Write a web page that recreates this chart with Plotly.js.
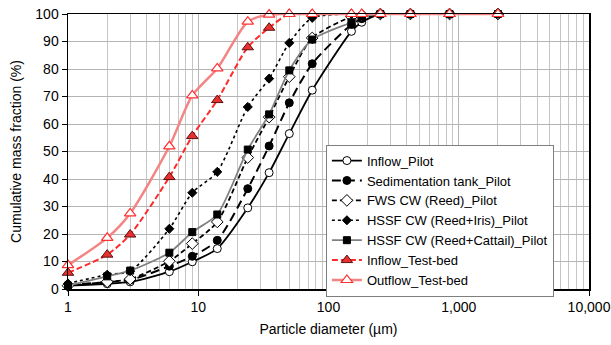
<!DOCTYPE html>
<html>
<head>
<meta charset="utf-8">
<script src="https://cdn.plot.ly/plotly-3.0.1.min.js"></script>
<style>html,body{margin:0;padding:0;background:#fff;}#chart{width:611px;height:345px;}</style>
</head>
<body>
<div id="chart"></div>
<script>
// Particle diameters (µm)
const diameters = [1, 2, 3, 6, 9, 14, 24, 35, 50, 75, 150, 180, 250, 425, 850, 2000];

// Cumulative mass fraction (%)
const inflowPilot     = [1.3, 1.9, 2.6, 6.3, 9.9, 14.7, 29.5, 42.3, 56.5, 72.3, 93.7, 97.0, 100, 100, 100, 100];
const sedTankPilot    = [1.5, 2.5, 3.3, 8.3, 11.9, 17.7, 36.5, 52.0, 67.7, 81.9, 96.2, 98.3, 100, 100, 100, 100];
const fwsReedPilot    = [1.2, 2.6, 3.6, 10.1, 16.5, 24.4, 47.8, 62.5, 77.2, 91.3, 99.0, 99.5, 100, 100, 100, 100];
const hssfIrisPilot   = [2.0, 5.2, 6.5, 21.9, 35.0, 42.6, 66.2, 76.5, 89.5, 98.6, 100, 100, 100, 100, 100, 100];
const hssfCattailPilot= [1.2, 4.6, 6.7, 13.2, 20.7, 27.1, 50.7, 63.5, 79.5, 90.7, 97.0, 99.0, 100, 100, 100, 100];
const inflowTestbed   = [5.9, 12.5, 19.8, 40.7, 55.6, 68.7, 87.9, 95.0, 100, 100, 100, 100, 100, 100, 100, 100];
const outflowTestbed  = [8.7, 18.6, 27.5, 51.9, 70.4, 80.2, 97.2, 99.8, 100, 100, 100, 100, 100, 100, 100, 100];

const seriesNames = [
  "Inflow_Pilot",
  "Sedimentation tank_Pilot",
  "FWS CW (Reed)_Pilot",
  "HSSF CW (Reed+Iris)_Pilot",
  "HSSF CW (Reed+Cattail)_Pilot",
  "Inflow_Test-bed",
  "Outflow_Test-bed"
];

const xTickVals = [1, 10, 100, 1000, 10000];
const xTickText = ["1", "10", "100", "1,000", "10,000"];
const xMinorVals = [];
[1, 10, 100, 1000].forEach(d => { for (let k = 2; k <= 9; k++) xMinorVals.push(d * k); });

const SM = 0.7;
function tr(name, y, line, marker) {
  return {
    type: "scatter", mode: "lines+markers", name: name,
    x: diameters, y: y,
    line: Object.assign({shape: "spline", smoothing: SM}, line),
    marker: marker,
    cliponaxis: false
  };
}

const data = [
  tr(seriesNames[0], inflowPilot, {color: "#000", width: 1.8},
     {symbol: "circle", size: 8, color: "#fff", line: {color: "#000", width: 1}}),
  tr(seriesNames[1], sedTankPilot, {color: "#000", width: 2, dash: "9px,5px"},
     {symbol: "circle", size: 8, color: "#000", line: {color: "#000", width: 1}}),
  tr(seriesNames[2], fwsReedPilot, {color: "#000", width: 1.8, dash: "5px,3px"},
     {symbol: "diamond", size: 9, color: "#fff", line: {color: "#000", width: 1}}),
  tr(seriesNames[3], hssfIrisPilot, {color: "#000", width: 1.6, dash: "dot"},
     {symbol: "diamond", size: 7, color: "#000", line: {color: "#000", width: 1}}),
  tr(seriesNames[4], hssfCattailPilot, {color: "#808080", width: 1.8},
     {symbol: "square", size: 7, color: "#000", line: {color: "#000", width: 1}}),
  tr(seriesNames[5], inflowTestbed, {color: "#FF2A2A", width: 2, dash: "6px,3px"},
     {symbol: "triangle-up", size: 10, color: "#E8302E", line: {color: "#5a1010", width: 1}}),
  tr(seriesNames[6], outflowTestbed, {color: "#F48484", width: 2.5},
     {symbol: "triangle-up", size: 10, color: "#fff", line: {color: "#FF3030", width: 1.2}})
];

const font = "Liberation Sans, Arial, sans-serif";
const layout = {
  width: 611, height: 345,
  margin: {l: 68, r: 22, t: 14, b: 56},
  paper_bgcolor: "#fff", plot_bgcolor: "#fff",
  font: {family: font, size: 14, color: "#000"},
  showlegend: true,
  legend: {
    x: 0.495, y: 0.525, xanchor: "left", yanchor: "top",
    bgcolor: "#fff", bordercolor: "#7f7f7f", borderwidth: 1,
    font: {family: font, size: 13, color: "#000"},
    tracegroupgap: 0
  },
  xaxis: {
    type: "log", range: [0, 4],
    tickmode: "array", tickvals: xTickVals, ticktext: xTickText,
    ticks: "outside", ticklen: 5, tickcolor: "#000", tickwidth: 1,
    showline: true, linecolor: "#000", linewidth: 1.5, mirror: true,
    showgrid: true, gridcolor: "#b5b5b5", gridwidth: 1,
    minor: {tickmode: "array", tickvals: xMinorVals, showgrid: true, gridcolor: "#c6c6c6", gridwidth: 1, ticks: ""},
    zeroline: false,
    tickfont: {size: 14},
    title: {text: "Particle diameter (µm)", font: {size: 14}, standoff: 10}
  },
  yaxis: {
    range: [0, 100], dtick: 10, tick0: 0,
    ticks: "outside", ticklen: 5, tickcolor: "#000", tickwidth: 1,
    showline: true, linecolor: "#000", linewidth: 1.5, mirror: true,
    showgrid: true, gridcolor: "#b5b5b5", gridwidth: 1,
    zeroline: false,
    tickfont: {size: 14},
    title: {text: "Cumulative mass fraction (%)", font: {size: 14}, standoff: 10}
  }
};

Plotly.newPlot("chart", data, layout, {displayModeBar: false, staticPlot: true});
</script>
</body>
</html>
